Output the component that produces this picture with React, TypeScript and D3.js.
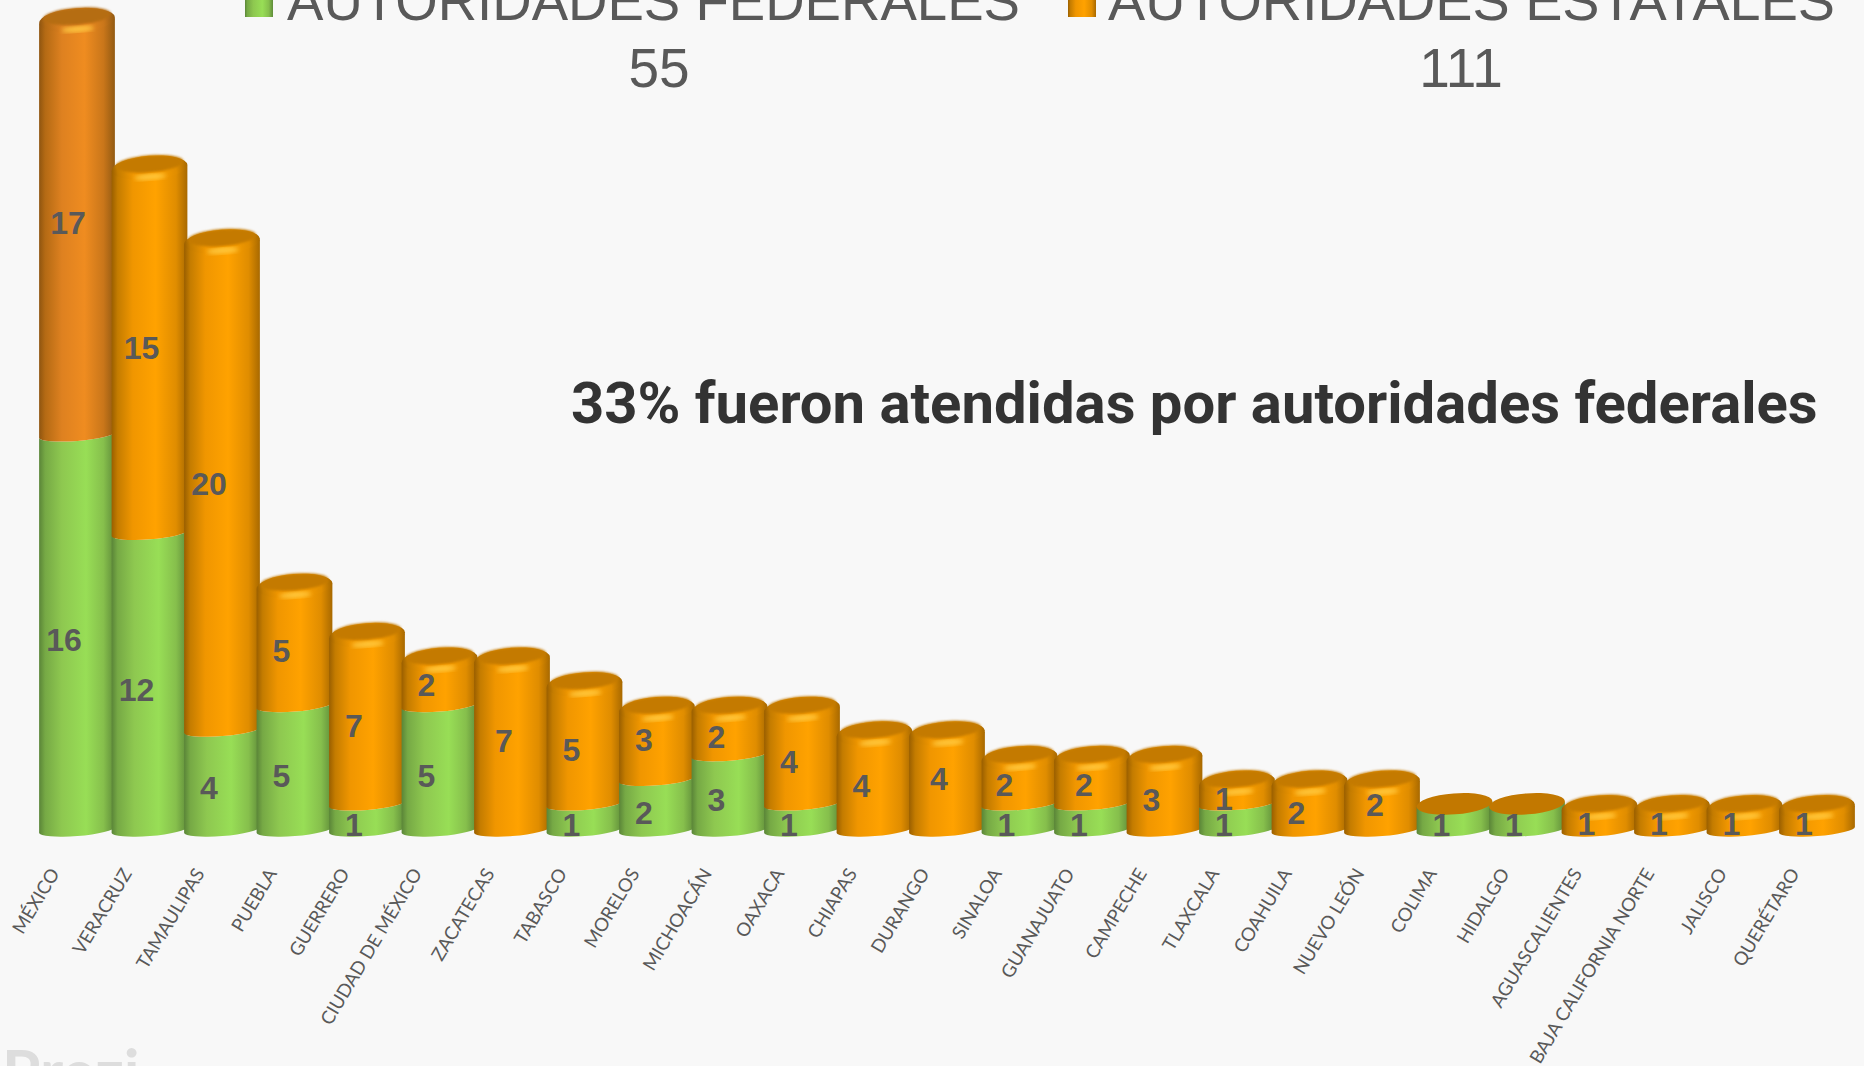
import React, { useEffect, useRef } from 'react';
import * as d3 from 'd3';

const states = [
  'MÉXICO', 'VERACRUZ', 'TAMAULIPAS', 'PUEBLA', 'GUERRERO', 'CIUDAD DE MÉXICO', 'ZACATECAS', 'TABASCO', 'MORELOS',
  'MICHOACÁN', 'OAXACA', 'CHIAPAS', 'DURANGO', 'SINALOA', 'GUANAJUATO', 'CAMPECHE', 'TLAXCALA', 'COAHUILA',
  'NUEVO LEÓN', 'COLIMA', 'HIDALGO', 'AGUASCALIENTES', 'BAJA CALIFORNIA NORTE', 'JALISCO', 'QUERÉTARO',
];
const federales = [16, 12, 4, 5, 1, 5, 0, 1, 2, 3, 1, 0, 0, 1, 1, 0, 1, 0, 0, 1, 1, 0, 0, 0, 0];
const estatales = [17, 15, 20, 5, 7, 2, 7, 5, 3, 2, 4, 4, 4, 2, 2, 3, 1, 2, 2, 0, 0, 1, 1, 1, 1];

// hand placed label offsets, the original labels are not centred in their segment
const estatalLabelDx = [-9, -8, -13, -13, -13, -13, -8, -13, -13, -13, -13, -13, -8, -15, -8, -13, -13, -13, -7, 0, 0, -13, -13, -13, -13];
const estatalLabelDy = [-7, -5, -4, 3, 4, 0, -5, 4, -6, 3, 4, 3, -4, 2, 2, 5, 4, 5, -3, 0, 0, 4, 4, 4, 4];

const WIDTH = 1864;
const HEIGHT = 1066;
const RX = 38;
const RY = 6;
const CAP_RY = 12;
const TILT = 4.5;
const BOUNDARY_LIFT = 3.5;

const App = () => {
  const svgRef = useRef<SVGSVGElement>(null);

  useEffect(() => {
    const svg = d3.select(svgRef.current);

    const x = d3.scalePoint().domain(states).range([77, 1817]);
    const y = d3.scaleLinear().domain([0, 33]).range([832, 832 - 33 * 24.6]);

    const defs = svg.append('defs');
    const addGradient = (id: string, stops: [number, string][]) => {
      const g = defs.append('linearGradient').attr('id', id);
      stops.forEach(([o, c]) => g.append('stop').attr('offset', `${o}%`).attr('stop-color', c));
    };
    addGradient('orange', [[0, '#9a5f00'], [8, '#c47c00'], [28, '#f09600'], [58, '#ffa200'], [85, '#e08d00'], [100, '#a86900']]);
    addGradient('orangeMx', [[0, '#8f5510'], [8, '#b46a14'], [30, '#de8120'], [60, '#ef8c20'], [85, '#c9761a'], [100, '#925a12']]);
    addGradient('green', [[0, '#5a8538'], [8, '#76a945'], [30, '#8ec850'], [62, '#98de56'], [85, '#86bf4c'], [100, '#5f8c3a']]);
    defs.append('filter').attr('id', 'soft').append('feGaussianBlur').attr('stdDeviation', 2.2);

    svg.append('rect').attr('width', WIDTH).attr('height', HEIGHT).attr('fill', '#f8f8f8');

    const rad = (TILT * Math.PI) / 180;
    const dx = RX * Math.cos(rad);
    const dy = RX * Math.sin(rad);

    // front face of one stacked segment of a cylinder
    const segment = (cx: number, yLow: number, yHigh: number) =>
      `M${cx - dx},${yLow + dy}` +
      `A${RX},${RY} ${-TILT} 0 0 ${cx + dx},${yLow - dy}` +
      `L${cx + dx},${yHigh - dy}` +
      `A${RX},${RY} ${-TILT} 0 1 ${cx - dx},${yHigh + dy}Z`;

    const bars = svg.append('g');
    states.forEach((s, i) => {
      const cx = x(s) as number;
      const fed = federales[i];
      const est = estatales[i];
      const total = fed + est;
      const g = bars.append('g');
      const orangeFill = i === 0 ? 'url(#orangeMx)' : 'url(#orange)';
      const base = y(0) - 2;
      const boundary = y(fed) - BOUNDARY_LIFT;
      if (fed > 0) {
        g.append('path').attr('d', segment(cx, base, est > 0 ? boundary : y(total) - BOUNDARY_LIFT)).attr('fill', 'url(#green)');
      }
      if (est > 0) {
        g.append('path').attr('d', segment(cx, fed > 0 ? boundary : base, y(total))).attr('fill', orangeFill);
      }
      const top = y(total);
      const rot = `rotate(${-TILT} ${cx} ${top})`;
      if (est > 0) {
        g.append('ellipse').attr('cx', cx).attr('cy', top).attr('rx', RX).attr('ry', CAP_RY)
          .attr('transform', rot).attr('fill', orangeFill);
        g.append('ellipse').attr('cx', cx).attr('cy', top + 9).attr('rx', 16).attr('ry', 3)
          .attr('transform', rot).attr('fill', '#ffcc44').attr('opacity', 0.9).attr('filter', 'url(#soft)');
        g.append('ellipse').attr('cx', cx).attr('cy', top - 4).attr('rx', 34).attr('ry', 8.5)
          .attr('transform', `rotate(${-TILT} ${cx} ${top - 4})`)
          .attr('fill', i === 0 ? '#b56d12' : '#c47a00').style('filter', 'blur(0.8px)');
      } else {
        g.append('ellipse').attr('cx', cx).attr('cy', top - BOUNDARY_LIFT).attr('rx', RX).attr('ry', 10.5)
          .attr('transform', `rotate(${-TILT} ${cx} ${top - BOUNDARY_LIFT})`).attr('fill', '#c27800');
      }
    });

    const labels = svg.append('g')
      .attr('font-family', '"Liberation Sans", Arial, sans-serif')
      .attr('font-weight', 700)
      .attr('font-size', 32)
      .attr('fill', '#595959')
      .attr('text-anchor', 'middle');
    states.forEach((s, i) => {
      const cx = x(s) as number;
      if (federales[i] > 0) {
        labels.append('text').attr('x', cx - 13).attr('y', y(federales[i] / 2) + 5).attr('dy', '0.35em').text(federales[i]);
      }
      if (estatales[i] > 0) {
        labels.append('text').attr('x', cx + estatalLabelDx[i])
          .attr('y', y(federales[i] + estatales[i] / 2) + estatalLabelDy[i])
          .attr('dy', '0.35em').text(estatales[i]);
      }
    });

    // category axis, rotated like the original
    const axis = svg.append('g')
      .attr('transform', 'translate(0,862)')
      .call(d3.axisBottom(x).tickSize(0).tickPadding(0));
    axis.select('.domain').remove();
    axis.selectAll('text')
      .attr('font-family', 'Lato, sans-serif')
      .attr('font-size', 18.6)
      .attr('fill', '#595959')
      .attr('text-anchor', 'end')
      .attr('dy', '0.35em')
      .attr('y', 0)
      .attr('transform', 'translate(-23,8) rotate(-59)');

    // legend, cut off by the top of the picture
    const legend = svg.append('g')
      .attr('font-family', '"Liberation Sans", Arial, sans-serif')
      .attr('fill', '#595959');
    const legendItems = [
      { name: 'AUTORIDADES FEDERALES', total: d3.sum(federales), fill: 'url(#green)', swatch: 245, text: 287, len: 733, num: 659 },
      { name: 'AUTORIDADES ESTATALES', total: d3.sum(estatales), fill: 'url(#orange)', swatch: 1068, text: 1108, len: 727, num: 1461 },
    ];
    legendItems.forEach((d) => {
      legend.append('rect').attr('x', d.swatch).attr('y', -8).attr('width', 28).attr('height', 25).attr('fill', d.fill);
      legend.append('text').attr('x', d.text).attr('y', 20).attr('font-size', 55)
        .attr('textLength', d.len).attr('lengthAdjust', 'spacingAndGlyphs').text(d.name);
      legend.append('text').attr('x', d.num).attr('y', 87).attr('font-size', 55).attr('text-anchor', 'middle').text(d.total);
    });

    svg.append('text')
      .attr('x', 571)
      .attr('y', 423)
      .attr('font-family', 'Roboto, sans-serif')
      .attr('font-weight', 700)
      .attr('font-size', 58)
      .attr('fill', '#333333')
      .text('33% fueron atendidas por autoridades federales');

    // watermark at the very bottom, mostly out of frame
    svg.append('text')
      .attr('x', 2)
      .attr('y', 1094)
      .attr('font-family', 'Lato, sans-serif')
      .attr('font-weight', 700)
      .attr('font-size', 62)
      .attr('fill', '#dddddd')
      .text('Prezi');

    return () => {
      svg.selectAll('*').remove();
    };
  }, []);

  return <svg ref={svgRef} width={WIDTH} height={HEIGHT} style={{ position: 'fixed', top: 0, left: 0 }} />;
};

export default App;
